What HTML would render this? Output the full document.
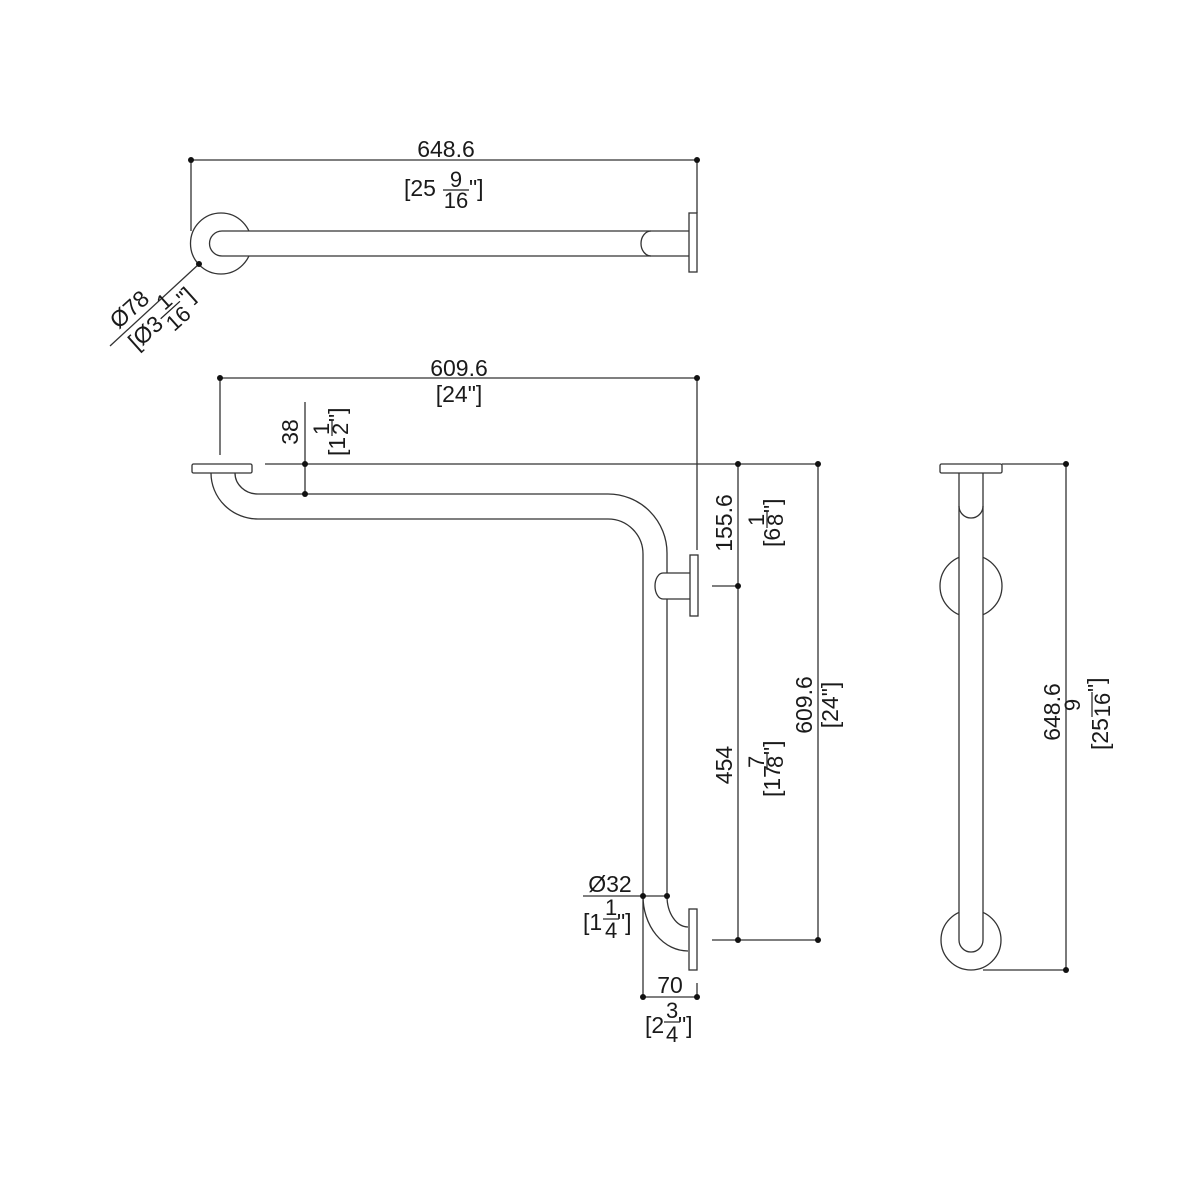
<!DOCTYPE html>
<html><head><meta charset="utf-8"><style>
html,body{margin:0;padding:0;background:#fff}
svg{display:block}
text{font-family:"Liberation Sans",sans-serif;fill:#1a1a1a}
</style></head><body>
<svg width="1200" height="1200" viewBox="0 0 1200 1200" xmlns="http://www.w3.org/2000/svg">
<g fill="none" stroke="#333" stroke-width="1.3">
<!-- TOP VIEW -->
<line x1="191" y1="160" x2="697" y2="160"/>
<line x1="191" y1="160" x2="191" y2="231"/>
<line x1="697" y1="160" x2="697" y2="213"/>
<circle cx="221" cy="243.5" r="30.5"/>
<rect x="210" y="231" width="470" height="25" fill="#fff" stroke="none"/>
<path d="M222 231 H689 M222 256 H689 M222 231 A12.5 12.5 0 0 0 222 256"/>
<path d="M651 231 A10 12.5 0 0 0 651 256"/>
<rect x="689" y="213" width="8" height="59" fill="#fff"/>
<line x1="199" y1="264" x2="110" y2="346"/>

<!-- MAIN VIEW -->
<line x1="220" y1="378" x2="697" y2="378"/>
<line x1="220" y1="378" x2="220" y2="455"/>
<line x1="697" y1="378" x2="697" y2="550"/>
<line x1="265" y1="464" x2="818" y2="464"/>
<line x1="305" y1="402" x2="305" y2="494"/>
<rect x="192" y="464" width="60" height="9" rx="1.5" fill="#fff"/>
<path d="M211 473 A47 46 0 0 0 258 519 H608 A35 35 0 0 1 643 554 V896"/>
<path d="M235 473 A23 21 0 0 0 258 494 H608 A59 59 0 0 1 667 553 V573"/>
<path d="M667 599 V896"/>
<path d="M667 573 H663 A8 13 0 0 0 663 599 H667"/>
<path d="M667 573 H690 M667 599 H690"/>
<rect x="690" y="555" width="8" height="61" fill="#fff"/>
<path d="M643 896 A45 55 0 0 0 688 951"/>
<path d="M667 896 A21 31 0 0 0 688 927"/>
<rect x="689" y="909" width="8" height="61" fill="#fff"/>
<line x1="583" y1="896" x2="667" y2="896"/>
<line x1="643" y1="896" x2="643" y2="997"/>
<line x1="697" y1="983" x2="697" y2="997"/>
<line x1="643" y1="997" x2="697" y2="997"/>
<line x1="738" y1="464" x2="738" y2="940"/>
<line x1="818" y1="464" x2="818" y2="940"/>
<line x1="712" y1="586" x2="738" y2="586"/>
<line x1="712" y1="940" x2="818" y2="940"/>

<!-- SIDE VIEW -->
<circle cx="971" cy="586" r="31"/>
<circle cx="971" cy="940" r="30"/>
<rect x="959" y="473" width="24" height="480" fill="#fff" stroke="none"/>
<path d="M959 473 V940 A12 12 0 0 0 983 940 V473"/>
<path d="M959 506 A12 12 0 0 0 983 506"/>
<rect x="940" y="464" width="62" height="9" rx="1.5" fill="#fff"/>
<line x1="1002" y1="464" x2="1066" y2="464"/>
<line x1="983" y1="970" x2="1066" y2="970"/>
<line x1="1066" y1="464" x2="1066" y2="970"/>
</g>
<g fill="#111">
<circle cx="191" cy="160" r="3"/><circle cx="697" cy="160" r="3"/><circle cx="199" cy="264" r="3"/>
<circle cx="220" cy="378" r="3"/><circle cx="697" cy="378" r="3"/>
<circle cx="305" cy="464" r="3"/><circle cx="305" cy="494" r="3"/>
<circle cx="738" cy="464" r="3"/><circle cx="818" cy="464" r="3"/>
<circle cx="738" cy="586" r="3"/><circle cx="738" cy="940" r="3"/><circle cx="818" cy="940" r="3"/>
<circle cx="643" cy="896" r="3"/><circle cx="667" cy="896" r="3"/>
<circle cx="643" cy="997" r="3"/><circle cx="697" cy="997" r="3"/>
<circle cx="1066" cy="464" r="3"/><circle cx="1066" cy="970" r="3"/>
</g>

<g font-size="23">
<text x="446" y="157" text-anchor="middle">648.6</text>
<text x="404" y="196">[25</text>
<text x="456" y="187" font-size="22" text-anchor="middle">9</text>
<line x1="443" y1="190" x2="469" y2="190" stroke="#222" stroke-width="1.2"/>
<text x="456" y="208" font-size="22" text-anchor="middle">16</text>
<text x="469" y="196">"]</text>

<g transform="translate(155,305) rotate(-42)">
<text x="-22" y="-6" text-anchor="middle">Ø78</text>
<text x="-44" y="22">[Ø3</text>
<text x="3" y="11" font-size="22">1</text>
<line x1="-5" y1="14" x2="21" y2="14" stroke="#222" stroke-width="1.2"/>
<text x="-4" y="33" font-size="22">16</text>
<text x="21" y="22">"]</text>
</g>

<text x="459" y="376" text-anchor="middle">609.6</text>
<text x="459" y="402" text-anchor="middle">[24"]</text>

<g transform="translate(305,432) rotate(-90)">
<text x="0" y="-7" text-anchor="middle">38</text>
<text x="-24" y="40">[1</text>
<text x="-3" y="24" font-size="22">1</text>
<line x1="-4" y1="27" x2="12" y2="27" stroke="#222" stroke-width="1.2"/>
<text x="-3" y="43" font-size="22">2</text>
<text x="10" y="40">"]</text>
</g>

<g transform="translate(738,523) rotate(-90)">
<text x="0" y="-6" text-anchor="middle">155.6</text>
<text x="-24" y="42">[6</text>
<text x="-3" y="26" font-size="22">1</text>
<line x1="-5" y1="29" x2="12" y2="29" stroke="#222" stroke-width="1.2"/>
<text x="-3" y="45" font-size="22">8</text>
<text x="10" y="42">"]</text>
</g>

<g transform="translate(738,765) rotate(-90)">
<text x="0" y="-6" text-anchor="middle">454</text>
<text x="-32" y="42">[17</text>
<text x="-3" y="26" font-size="22">7</text>
<line x1="-5" y1="29" x2="12" y2="29" stroke="#222" stroke-width="1.2"/>
<text x="-3" y="45" font-size="22">8</text>
<text x="10" y="42">"]</text>
</g>

<g transform="translate(818,705) rotate(-90)">
<text x="0" y="-6" text-anchor="middle">609.6</text>
<text x="0" y="20" text-anchor="middle">[24"]</text>
</g>

<text x="610" y="892" text-anchor="middle">Ø32</text>
<text x="583" y="930">[1</text>
<text x="605" y="915" font-size="22">1</text>
<line x1="603" y1="919" x2="619" y2="919" stroke="#222" stroke-width="1.2"/>
<text x="605" y="938" font-size="22">4</text>
<text x="617" y="930">"]</text>

<text x="670" y="993" text-anchor="middle">70</text>
<text x="645" y="1033">[2</text>
<text x="666" y="1018" font-size="22">3</text>
<line x1="664" y1="1022" x2="680" y2="1022" stroke="#222" stroke-width="1.2"/>
<text x="666" y="1042" font-size="22">4</text>
<text x="678" y="1033">"]</text>

<g transform="translate(1066,712) rotate(-90)">
<text x="0" y="-6" text-anchor="middle">648.6</text>
<text x="-38" y="42">[25</text>
<text x="7" y="14" font-size="22" text-anchor="middle">9</text>
<line x1="-5" y1="26" x2="20" y2="26" stroke="#222" stroke-width="1.2"/>
<text x="7" y="44" font-size="22" text-anchor="middle">16</text>
<text x="20" y="38">"]</text>
</g>
</g>
</svg>
</body></html>
